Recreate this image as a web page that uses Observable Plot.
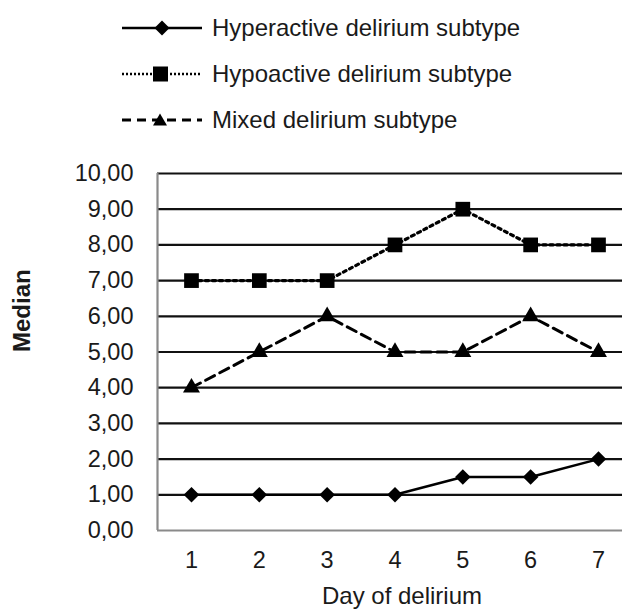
<!DOCTYPE html>
<html>
<head>
<meta charset="utf-8">
<script src="https://cdn.jsdelivr.net/npm/d3@7"></script>
<script src="https://cdn.jsdelivr.net/npm/@observablehq/plot@0.6"></script>
<style>
  body { margin: 0; background: #fff; font-family: "Liberation Sans", Arial, sans-serif; }
  #legend { height: 150px; box-sizing: border-box; padding-top: 5px; padding-left: 122px; }
  .row { height: 46px; display: flex; align-items: center; font-size: 24px; color: #1a1a1a; }
  .row svg { margin-right: 10px; }
</style>
</head>
<body>
<div id="legend"></div>
<div id="chart"></div>
<script>
const days = [1, 2, 3, 4, 5, 6, 7];
const hyperactive = [1, 1, 1, 1, 1.5, 1.5, 2];
const hypoactive = [7, 7, 7, 8, 9, 8, 8];
const mixed = [4, 5, 6, 5, 5, 6, 5];
const seriesNames = ["Hyperactive delirium subtype", "Hypoactive delirium subtype", "Mixed delirium subtype"];
const yTicks = [0, 1, 2, 3, 4, 5, 6, 7, 8, 9, 10];

const styles = [
  {dash: "none", width: 2.5, symbol: "diamond2", r: 7},
  {dash: "3,4", width: 3.2, symbol: "square", r: 8.3},
  {dash: "10,6", width: 3, symbol: "triangle", r: 6.3}
];

const data = [];
[hyperactive, hypoactive, mixed].forEach((vals, i) => {
  vals.forEach((v, j) => data.push({day: days[j], value: v, series: seriesNames[i]}));
});

// Legend
const legend = document.getElementById("legend");
const legendSwatch = [
  `<line x1="0" x2="80" y1="10" y2="10" stroke="#000" stroke-width="2.5"/><path d="M40,2.5L47.5,10L40,17.5L32.5,10Z" fill="#000"/>`,
  `<line x1="0" x2="80" y1="10" y2="10" stroke="#000" stroke-width="2.5" stroke-dasharray="2,2"/><rect x="31" y="2.5" width="15" height="15" fill="#000"/>`,
  `<line x1="0" x2="80" y1="10" y2="10" stroke="#000" stroke-width="3" stroke-dasharray="9,6"/><path d="M38,3.5L45,15.5L31,15.5Z" fill="#000"/>`
];
seriesNames.forEach((name, i) => {
  const row = document.createElement("div");
  row.className = "row";
  row.innerHTML = `<svg width="80" height="20">${legendSwatch[i]}</svg><span>${name}</span>`;
  legend.appendChild(row);
});

const fmt = d => d.toFixed(2).replace(".", ",");

const marks = [
  Plot.ruleY(yTicks.filter(d => d > 0), {stroke: "#111", strokeWidth: 2.2}),
  Plot.ruleY([0], {stroke: "#8a8a8a", strokeWidth: 2.2}),
  Plot.ruleX([0.499], {y1: 0, y2: 10, stroke: "#8a8a8a", strokeWidth: 2.2}),
  Plot.axisY({ticks: yTicks, tickFormat: fmt, tickSize: 0, tickPadding: 24, fontSize: 23.5, label: null}),
  Plot.axisX({ticks: days, tickFormat: d => String(d), tickSize: 0, tickPadding: 21, fontSize: 23.5, label: null}),
  Plot.text(["Day of delirium"], {frameAnchor: "bottom", dy: 73, dx: 12, fontSize: 24, lineAnchor: "bottom", fill: "#1a1a1a"}),
  Plot.text(["Median"], {frameAnchor: "left", rotate: -90, dx: -135, fontSize: 24, fontWeight: "bold", fill: "#1a1a1a"})
];
seriesNames.forEach((name, i) => {
  const d = data.filter(r => r.series === name);
  const s = styles[i];
  marks.push(Plot.line(d, {x: "day", y: "value", stroke: "#000", strokeWidth: s.width, strokeDasharray: s.dash}));
  marks.push(Plot.dot(d, {x: "day", y: "value", symbol: () => s.symbol, r: s.r, fill: "#000", stroke: "none"}));
});

const chart = Plot.plot({
  width: 622,
  height: 464,
  marginTop: 23,
  marginBottom: 84,
  marginLeft: 157,
  marginRight: 0,
  style: {fontFamily: "'Liberation Sans', Arial, sans-serif", color: "#1a1a1a", background: "#fff"},
  x: {domain: [0.499, 7.354], type: "linear"},
  y: {domain: [0, 10]},
  symbol: {type: "identity"},
  marks
});
document.getElementById("chart").appendChild(chart);
</script>
</body>
</html>
